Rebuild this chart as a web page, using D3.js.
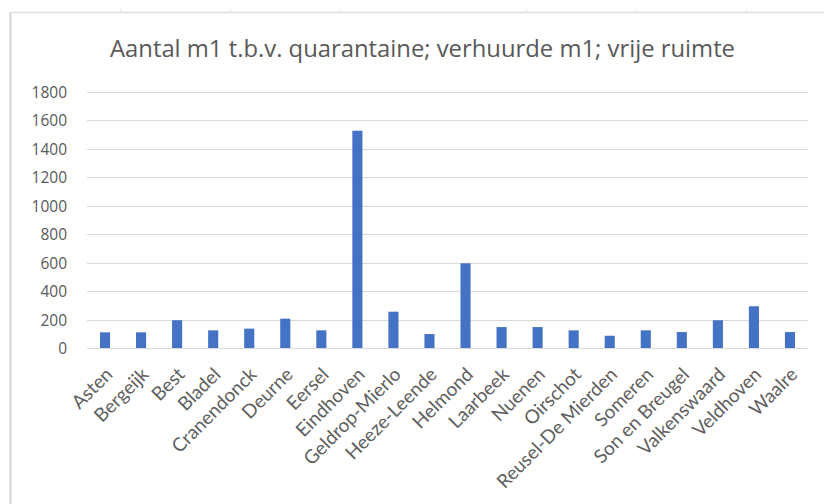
<!DOCTYPE html>
<html><head><meta charset="utf-8">
<script src="https://cdn.jsdelivr.net/npm/d3@7"></script>
<style>body{margin:0;background:#fff;}svg{display:block;}</style>
</head><body>
<script>
const categories = ["Asten","Bergeijk","Best","Bladel","Cranendonck","Deurne","Eersel","Eindhoven","Geldrop-Mierlo","Heeze-Leende","Helmond","Laarbeek","Nuenen","Oirschot","Reusel-De Mierden","Someren","Son en Breugel","Valkenswaard","Veldhoven","Waalre"];
const values = [110,110,195,124,136,206,124,1526,255,98,595,147,147,124,86,124,112,195,293,112];
const yTicks = [0,200,400,600,800,1000,1200,1400,1600,1800];
const title = "Aantal m1 t.b.v. quarantaine; verhuurde m1; vrije ruimte";

const W = 824, H = 504;
const svg = d3.select("body").append("svg").attr("width", W).attr("height", H);
const font = "'Open Sans', sans-serif";
const labelFont = "Lato, 'Open Sans', sans-serif";

// sheet border lines
svg.append("line").attr("x1",10.5).attr("x2",10.5).attr("y1",12).attr("y2",H).attr("stroke","#d4d4d4").attr("stroke-width",2);
svg.append("line").attr("x1",10).attr("x2",W).attr("y1",12.5).attr("y2",12.5).attr("stroke","#dedede").attr("stroke-width",1.5);
[120,230,339,526,636,746].forEach(x=>{
  svg.append("line").attr("x1",x+0.5).attr("x2",x+0.5).attr("y1",9).attr("y2",12).attr("stroke","#e4e4e4");
});

const x = d3.scaleBand().domain(categories).range([87, 808]).paddingInner(0.72).paddingOuter(0.36);
const y = d3.scaleLinear().domain([0,1800]).range([348, 91.7]);

// gridlines
svg.append("g").selectAll("line").data(yTicks).join("line")
  .attr("x1",87).attr("x2",808)
  .attr("y1",d=>Math.round(y(d))+0.5).attr("y2",d=>Math.round(y(d))+0.5)
  .attr("stroke","#d9d9d9").attr("stroke-width",1);

// y axis labels
const yAxis = d3.axisLeft(y).tickValues(yTicks).tickFormat(d3.format("d")).tickSize(0).tickPadding(0);
const gy = svg.append("g").attr("transform","translate(67,0)").call(yAxis);
gy.select(".domain").remove();
gy.selectAll("text").attr("font-family",font).attr("font-size",15.5).attr("fill","#595959").attr("dy","0.36em");

// bars
svg.append("g").selectAll("rect").data(values).join("rect")
  .attr("x",(d,i)=>x(categories[i]))
  .attr("width",x.bandwidth())
  .attr("y",d=>y(d))
  .attr("height",d=>y(0)-y(d))
  .attr("fill","#4472c4");

// x axis labels
const xAxis = d3.axisBottom(x).tickSize(0).tickPadding(0);
const gx = svg.append("g").attr("transform","translate(0,348)").call(xAxis);
gx.select(".domain").remove();
gx.selectAll("text")
  .attr("font-family",labelFont).attr("font-size",19).attr("fill","#5f5f5f")
  .attr("text-anchor","end").attr("y",0).attr("dy","0.35em")
  .attr("transform","translate(4,23) rotate(-45)");

// title
svg.append("text").attr("x",422.5).attr("y",57).attr("text-anchor","middle")
  .attr("font-family",font).attr("font-size",23.8).attr("fill","#595959")
  .attr("textLength",625).attr("lengthAdjust","spacingAndGlyphs").text(title);
</script>
</body></html>
